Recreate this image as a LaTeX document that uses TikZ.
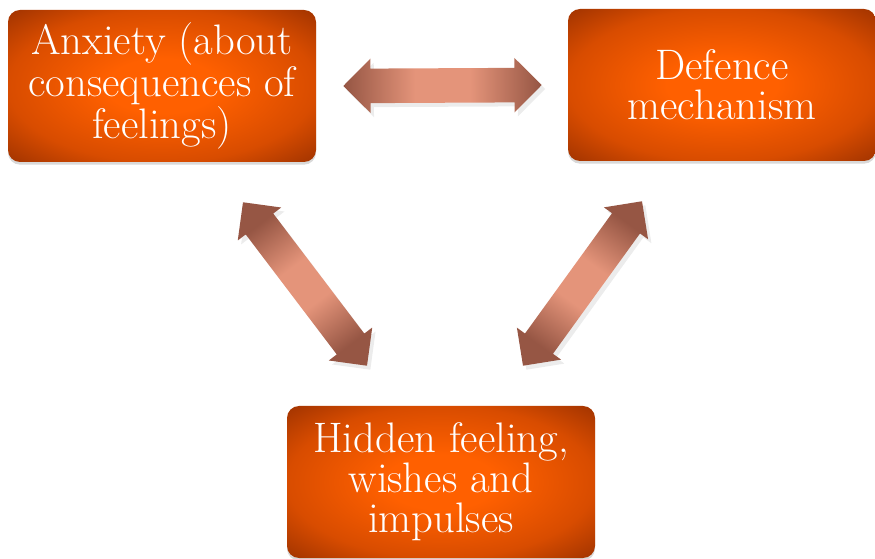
\documentclass[tikz,border=0pt]{standalone}
\usepackage{fontspec}
\usepackage{tikz}
\usetikzlibrary{calc,shapes.arrows,shadows}
\definecolor{boxcore}{RGB}{255,96,0}
\definecolor{boxmid}{RGB}{216,76,0}
\definecolor{boxrim}{RGB}{158,50,0}
\definecolor{linkcore}{RGB}{228,148,122}
\definecolor{linkend}{RGB}{150,86,68}
\pgfdeclareradialshading{boxglow}{\pgfpoint{0bp}{0bp}}{%
  color(0bp)=(boxcore); color(9bp)=(boxcore); color(25bp)=(boxmid);
  color(36bp)=(boxrim); color(50bp)=(boxrim)}
\pgfdeclarehorizontalshading{linkglow}{100bp}{%
  color(0bp)=(linkend); color(25bp)=(linkend); color(43bp)=(linkcore);
  color(57bp)=(linkcore); color(75bp)=(linkend); color(100bp)=(linkend)}
\tikzset{
    %Define style for boxes
    feelbox/.style={
           rectangle,
           rounded corners=9pt,
           minimum width=231pt,
           minimum height=114pt,
           shade, shading=boxglow,
           text=white,
           align=center,
           font=\fontsize{32}{30}\selectfont,
           drop shadow={opacity=0.3, shadow xshift=0pt, shadow yshift=-2pt}
           },
    % Define style for the double arrows
    link/.style={
           double arrow,
           double arrow head extend=7.5pt,
           minimum width=40.5pt,
           inner xsep=0pt, inner ysep=12.75pt,
           shade, shading=linkglow,
           drop shadow={opacity=0.15, shadow xshift=2.5pt, shadow yshift=-3pt}
           }
}
\begin{document}
\begin{tikzpicture}[x=0.75pt,y=-0.75pt]
\useasboundingbox (0,0) rectangle (875,559);
\node[feelbox](anx) at (162,86){Anxiety (about\\consequences of\\feelings)};
\node[feelbox](def) at (722,85){Defence\\mechanism};
\node[feelbox](hid) at (441,482){Hidden feeling,\\wishes and\\impulses};
% end points of the arrows
\coordinate (anxr) at ($(anx.east)+(27,0)$);
\coordinate (defl) at ($(def.west)+(-26,0)$);
\coordinate (anxd) at ($(anx.south)+(81,40)$);
\coordinate (hidl) at ($(hid.north)+(-74,-40)$);
\coordinate (defd) at ($(def.south)+(-80,40)$);
\coordinate (hidr) at ($(hid.north)+(82,-40)$);
\foreach \from/\to in {anxr/defl, anxd/hidl, defd/hidr}
  \path let \p1=(\from), \p2=(\to),
        \n1={atan2(\y2-\y1,\x2-\x1)}, \n2={veclen(\x2-\x1,\y2-\y1)} in
    node[link, minimum height=\n2, rotate=\n1, shading angle=\n1]
      at ($(\from)!0.5!(\to)$) {};
\end{tikzpicture}
\end{document}
